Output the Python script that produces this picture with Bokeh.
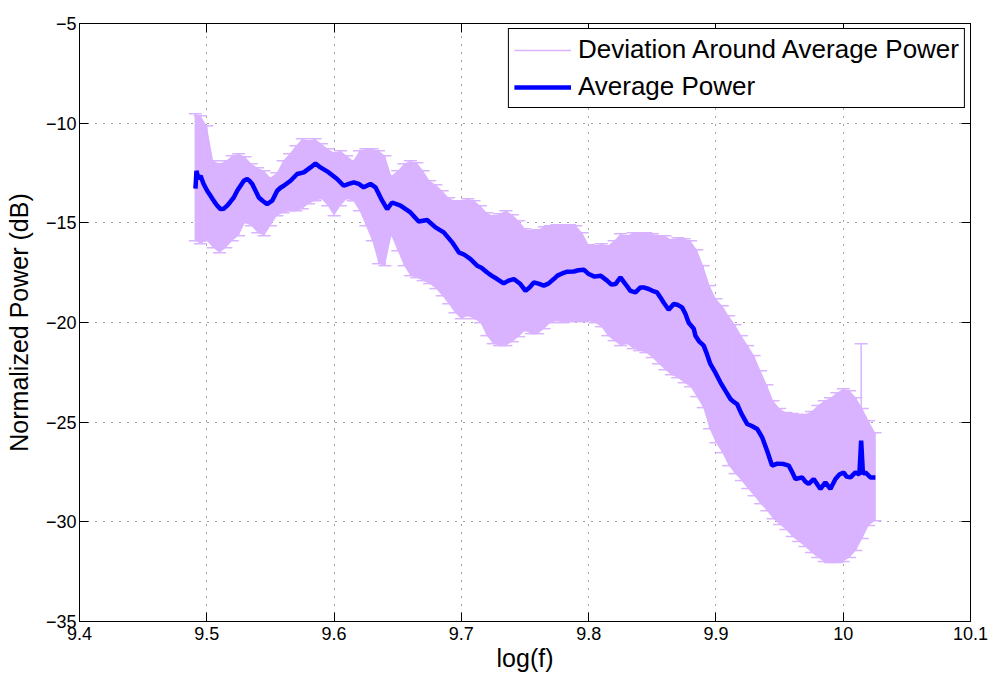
from bokeh.plotting import figure
from bokeh.models import (Range1d, LinearAxis, FixedTicker, CustomJSTickFormatter,
                          ColumnDataSource, Legend, LegendItem)
from bokeh.embed import file_html
from bokeh.resources import INLINE

# ---------------- data ----------------
mean_x = [9.4911, 9.4919, 9.4935, 9.4951, 9.4974, 9.5003, 9.5029, 9.5055, 9.5082, 9.5108,
          9.5134, 9.5160, 9.5186, 9.5212, 9.5239, 9.5265, 9.5291, 9.5317, 9.5335, 9.5357,
          9.5383, 9.5409, 9.5438, 9.5474, 9.5514, 9.5553, 9.5579, 9.5605, 9.5658, 9.5710,
          9.5762, 9.5815, 9.5854, 9.5893, 9.5958, 9.6024, 9.6076, 9.6115, 9.6155, 9.6194,
          9.6233, 9.6286, 9.6325, 9.6378, 9.6417, 9.6456, 9.6522, 9.6600, 9.6665, 9.6731,
          9.6797, 9.6862, 9.6928, 9.6980, 9.7024, 9.7072, 9.7124, 9.7158, 9.7203, 9.7237,
          9.7281, 9.7333, 9.7370, 9.7412, 9.7464, 9.7504, 9.7535, 9.7569, 9.7606, 9.7647,
          9.7684, 9.7726, 9.7755, 9.7792, 9.7833, 9.7883, 9.7920, 9.7962, 9.8001, 9.8046,
          9.8093, 9.8145, 9.8179, 9.8211, 9.8250, 9.8289, 9.8328, 9.8368, 9.8407, 9.8438,
          9.8472, 9.8501, 9.8538, 9.8564, 9.8590, 9.8629, 9.8668, 9.8697, 9.8734, 9.8760,
          9.8786, 9.8826, 9.8839, 9.8870, 9.8904, 9.8925, 9.8956, 9.8996, 9.9035, 9.9074,
          9.9114, 9.9137, 9.9166, 9.9200, 9.9245, 9.9278, 9.9324, 9.9363, 9.9402, 9.9441,
          9.9483, 9.9533, 9.9572, 9.9593, 9.9625, 9.9677, 9.9703, 9.9729, 9.9768, 9.9797,
          9.9821, 9.9860, 9.9899, 9.9939, 9.9970, 10.0004, 10.0025, 10.0057, 10.0096, 10.0127,
          10.0141, 10.0155, 10.0174, 10.0214, 10.0253]
mean_power = [-13.29, -12.39, -12.79, -12.64, -13.04, -13.39, -13.64, -13.90, -14.14, -14.31,
              -14.29, -14.14, -13.94, -13.73, -13.39, -13.14, -12.89, -12.80, -12.89, -13.05,
              -13.39, -13.73, -13.89, -14.06, -13.89, -13.39, -13.24, -13.14, -12.89, -12.55,
              -12.47, -12.22, -12.02, -12.22, -12.47, -12.80, -13.14, -13.05, -12.97, -13.05,
              -13.22, -13.05, -13.22, -13.89, -14.31, -13.98, -14.14, -14.48, -14.93, -14.86,
              -15.23, -15.48, -15.98, -16.48, -16.60, -16.82, -17.15, -17.25, -17.49, -17.65,
              -17.82, -18.04, -17.90, -17.82, -18.07, -18.41, -18.25, -17.99, -18.05, -18.15,
              -18.05, -17.82, -17.65, -17.54, -17.45, -17.44, -17.38, -17.35, -17.57, -17.70,
              -17.65, -17.90, -18.10, -18.07, -17.74, -18.07, -18.41, -18.49, -18.24, -18.25,
              -18.32, -18.41, -18.49, -18.74, -19.01, -19.36, -19.07, -19.11, -19.24, -19.56,
              -20.01, -20.31, -20.66, -20.96, -21.16, -21.51, -22.08, -22.52, -23.00, -23.42,
              -23.84, -23.97, -24.09, -24.57, -25.09, -25.18, -25.34, -25.76, -26.43, -27.18,
              -27.08, -27.10, -27.18, -27.43, -27.85, -27.77, -27.98, -28.10, -27.85, -28.13,
              -28.35, -28.02, -28.35, -27.85, -27.63, -27.52, -27.73, -27.77, -27.52, -27.63,
              -25.93, -27.60, -27.52, -27.77, -27.77]

dev_x = [9.491, 9.495, 9.500, 9.505, 9.510, 9.515, 9.520, 9.525, 9.530, 9.535,
         9.540, 9.545, 9.550, 9.555, 9.560, 9.565, 9.570, 9.575, 9.580, 9.585,
         9.590, 9.595, 9.600, 9.605, 9.610, 9.615, 9.620, 9.625, 9.630, 9.635,
         9.640, 9.645, 9.650, 9.655, 9.660, 9.665, 9.670, 9.675, 9.680, 9.685,
         9.690, 9.695, 9.700, 9.705, 9.710, 9.715, 9.720, 9.725, 9.730, 9.735,
         9.740, 9.745, 9.750, 9.755, 9.760, 9.765, 9.770, 9.775, 9.780, 9.785,
         9.790, 9.795, 9.800, 9.805, 9.810, 9.815, 9.820, 9.825, 9.830, 9.835,
         9.840, 9.845, 9.850, 9.855, 9.860, 9.865, 9.870, 9.875, 9.880, 9.885,
         9.890, 9.895, 9.900, 9.905, 9.910, 9.915, 9.920, 9.925, 9.930, 9.935,
         9.940, 9.945, 9.950, 9.955, 9.960, 9.965, 9.970, 9.975, 9.980, 9.985,
         9.990, 9.995, 10.000, 10.005, 10.010, 10.015, 10.020, 10.025]
dev_upper = [-9.53, -9.63, -10.13, -11.88, -12.04, -11.88, -11.63, -11.53, -11.68, -12.04,
             -12.24, -12.39, -12.74, -12.49, -11.88, -11.53, -11.13, -10.78, -10.88, -10.78,
             -11.03, -11.28, -11.48, -11.38, -11.63, -11.88, -11.38, -11.28, -11.28, -11.38,
             -11.63, -12.64, -12.39, -12.04, -11.88, -11.98, -12.39, -12.89, -13.09, -13.39,
             -13.74, -13.89, -13.89, -13.79, -13.89, -14.14, -14.49, -14.64, -14.54, -14.39,
             -14.59, -14.89, -15.30, -15.40, -15.35, -15.20, -15.15, -15.10, -15.10, -15.10,
             -15.15, -15.50, -16.10, -16.15, -16.05, -16.15, -15.90, -15.55, -15.65, -15.50,
             -15.55, -15.50, -15.55, -15.65, -15.65, -15.85, -15.75, -15.80, -15.90, -16.35,
             -17.15, -18.15, -18.81, -19.16, -19.66, -20.11, -20.66, -21.16, -21.66, -22.42,
             -23.12, -23.92, -24.32, -24.52, -24.57, -24.62, -24.62, -24.47, -24.17, -23.92,
             -23.77, -23.52, -23.32, -23.42, -23.77, -24.32, -24.93, -25.53]
dev_lower = [-15.90, -16.05, -15.90, -16.25, -16.50, -16.25, -15.90, -15.65, -14.99, -15.15,
             -15.50, -15.65, -15.15, -14.64, -14.49, -14.39, -14.39, -14.29, -14.04, -13.89,
             -13.79, -14.14, -14.64, -14.14, -13.79, -13.89, -14.39, -15.15, -15.90, -17.05,
             -17.15, -15.65, -16.40, -17.15, -17.65, -17.75, -17.90, -18.05, -18.30, -18.66,
             -19.06, -19.51, -19.81, -19.66, -19.81, -20.01, -20.66, -21.06, -21.16, -21.16,
             -20.96, -20.71, -20.41, -20.56, -20.56, -20.31, -20.01, -19.91, -20.01, -19.96,
             -19.91, -19.96, -19.91, -20.01, -20.21, -20.66, -20.91, -21.16, -21.06, -21.31,
             -21.41, -21.51, -21.76, -22.07, -22.37, -22.62, -22.77, -23.02, -23.22, -23.72,
             -24.27, -25.33, -26.03, -26.53, -27.18, -27.58, -27.93, -28.33, -28.69, -29.09,
             -29.44, -29.84, -30.14, -30.39, -30.74, -30.99, -31.24, -31.54, -31.79, -31.99,
             -32.04, -32.04, -31.99, -31.79, -31.44, -30.84, -30.19, -29.94]
# single long deviation bar near the spike
spike_x = [10.0141]
spike_lower = [-27.60]
spike_upper = [-21.06]

x_ticks = [9.4, 9.5, 9.6, 9.7, 9.8, 9.9, 10.0, 10.1]
x_tick_labels = ["9.4", "9.5", "9.6", "9.7", "9.8", "9.9", "10", "10.1"]
y_ticks = [-35, -30, -25, -20, -15, -10, -5]
y_tick_labels = ["\u221235", "\u221230", "\u221225", "\u221220", "\u221215", "\u221210", "\u22125"]

assert len(mean_x) == len(mean_power)
assert len(dev_x) == len(dev_upper) == len(dev_lower)

FONT = "Liberation Sans"
PURPLE = "#d9b3ff"
BLUE = "#0000ff"

p = figure(width=991, height=681, x_range=Range1d(9.4, 10.1), y_range=Range1d(-35, -5),
           output_backend="svg", toolbar_location=None,
           min_border_left=79, min_border_right=21, min_border_top=23, min_border_bottom=60,
           background_fill_color="white", border_fill_color="white")
p.outline_line_color = "black"
p.outline_line_width = 1

# deviation band + bars + caps
p.varea(x=dev_x, y1=dev_lower, y2=dev_upper, fill_color=PURPLE, fill_alpha=1.0)
bars_src = ColumnDataSource(dict(x=dev_x + spike_x, lo=dev_lower + spike_lower,
                                 hi=dev_upper + spike_upper))
dev_r = p.segment(x0="x", y0="lo", x1="x", y1="hi", source=bars_src,
                  line_color=PURPLE, line_width=1.5)
p.dash(x="x", y="hi", source=bars_src, size=13, line_color=PURPLE, line_width=1.5)
p.dash(x="x", y="lo", source=bars_src, size=13, line_color=PURPLE, line_width=1.5)

mean_r = p.line(mean_x, mean_power, line_color=BLUE, line_width=4.5)

legend = Legend(items=[LegendItem(label="Deviation Around Average Power", renderers=[dev_r]),
                       LegendItem(label="Average Power", renderers=[mean_r])],
                location="top_right")
legend.margin = 5
legend.padding = 5
legend.spacing = 6
legend.label_standoff = 7
legend.glyph_width = 57
legend.glyph_height = 28
legend.label_height = 28
legend.label_text_font = FONT
legend.label_text_font_size = "26px"
legend.label_text_color = "black"
legend.border_line_color = "black"
legend.border_line_width = 1
legend.border_line_alpha = 1
legend.background_fill_color = "white"
legend.background_fill_alpha = 1
p.add_layout(legend)

# axes
xt = FixedTicker(ticks=x_ticks)
yt = FixedTicker(ticks=y_ticks)
xa = p.xaxis[0]
ya = p.yaxis[0]
xa.ticker = xt
ya.ticker = yt
xa.major_label_overrides = {t: l for t, l in zip(x_ticks, x_tick_labels)}
ya.major_label_overrides = {t: l for t, l in zip(y_ticks, y_tick_labels)}
xa.axis_label = "log(f)"
ya.axis_label = "Normalized Power (dB)"
for a in (xa, ya):
    a.axis_label_text_font = FONT
    a.axis_label_text_font_size = "25px"
    a.axis_label_text_font_style = "normal"
    a.axis_label_text_color = "black"
    a.major_label_text_font = FONT
    a.major_label_text_font_size = "18px"
    a.major_label_text_color = "black"
    a.major_tick_in = 9
    a.major_tick_out = 0
    a.minor_tick_line_color = None
    a.axis_line_color = "black"
    a.major_tick_line_color = "black"
xa.major_label_standoff = 5
xa.axis_label_standoff = 1
ya.major_label_standoff = 3
ya.axis_label_standoff = 10

blank = CustomJSTickFormatter(code="return ''")
top = LinearAxis(ticker=xt, formatter=blank, major_tick_in=9, major_tick_out=0,
                 minor_tick_line_color=None, major_label_text_font_size="0px",
                 major_label_standoff=0, axis_line_color="black")
right = LinearAxis(ticker=yt, formatter=blank, major_tick_in=9, major_tick_out=0,
                   minor_tick_line_color=None, major_label_text_font_size="0px",
                   major_label_standoff=0, axis_line_color="black")
p.add_layout(top, "above")
p.add_layout(right, "right")

# dotted grid
p.xgrid.ticker = xt
p.ygrid.ticker = yt
for g in (p.xgrid[0], p.ygrid[0]):
    g.grid_line_color = "black"
    g.grid_line_alpha = 0.75
    g.grid_line_dash = "1 7"
    g.grid_line_width = 1

open("out.html", "w").write(file_html(p, INLINE))
